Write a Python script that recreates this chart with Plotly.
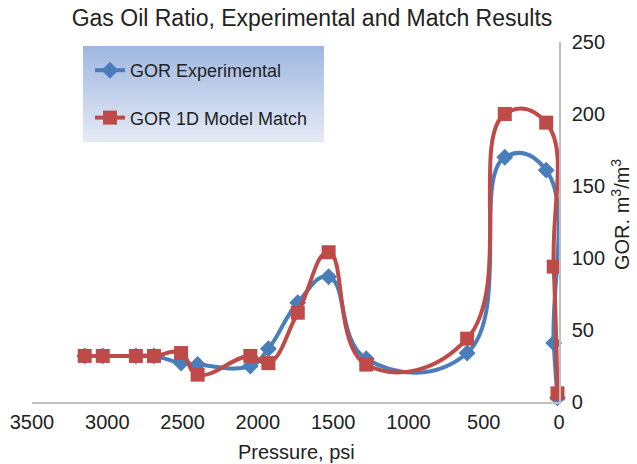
import plotly.graph_objects as go

# ---- data ----
pressure_psi = [3150, 3030, 2810, 2690, 2510, 2400, 2050, 1930, 1735, 1530, 1280, 610, 360, 85, 35, 10]
gor_experimental = [32, 32, 32, 32, 27, 26, 25, 37, 69, 87, 30, 34, 170, 161, 41, 3]
gor_model_match = [32, 32, 32, 32, 34, 19, 32, 27, 62, 104, 26, 44, 200, 194, 94, 6]
x_ticks = [3500, 3000, 2500, 2000, 1500, 1000, 500, 0]
y_ticks = [0, 50, 100, 150, 200, 250]

W, H = 637, 464
L, R, T, B = 32, 78, 42, 62
PW, PH = W - L - R, H - T - B

FONT = "Liberation Sans, Arial, Helvetica, sans-serif"
TXT = "#222222"
BLUE = "#4a7ebb"
RED = "#be4b48"

def px2paper_x(px):
    return (px - L) / PW

def px2paper_y(py):
    return (H - B - py) / PH

fig = go.Figure()
fig.add_trace(go.Scatter(
    x=pressure_psi, y=gor_experimental, name="GOR Experimental",
    mode="lines+markers", line=dict(color=BLUE, width=4, shape="spline", smoothing=1.3),
    marker=dict(symbol="diamond", size=13, color=BLUE),
    legendgroup="a", cliponaxis=False,
))
fig.add_trace(go.Scatter(
    x=pressure_psi, y=gor_model_match, name="GOR 1D Model Match",
    mode="lines+markers", line=dict(color=RED, width=4, shape="spline", smoothing=1.3),
    marker=dict(symbol="square", size=14, color=RED),
    legendgroup="b", cliponaxis=False,
))

# gradient legend background (stacked strips)
bx0, bx1, by0, by1 = 83, 324, 46, 142
top_c = (160, 184, 225)
bot_c = (228, 234, 245)
n = 24
shapes = []
for i in range(n):
    t = i / (n - 1)
    c = tuple(int(round(top_c[k] + (bot_c[k] - top_c[k]) * t)) for k in range(3))
    ya = by0 + (by1 - by0) * i / n
    yb = by0 + (by1 - by0) * (i + 1) / n
    shapes.append(dict(type="rect", xref="paper", yref="paper",
                       x0=px2paper_x(bx0), x1=px2paper_x(bx1),
                       y0=px2paper_y(yb) - 0.001, y1=px2paper_y(ya),
                       fillcolor="rgb(%d,%d,%d)" % c, line=dict(width=0), layer="below"))

annotations = [
    dict(text="Pressure, psi", xref="paper", yref="paper",
         x=px2paper_x(296), y=px2paper_y(452), xanchor="center", yanchor="middle",
         showarrow=False, font=dict(size=20, color=TXT)),
    dict(text="GOR. m<sup>3</sup>/m<sup>3</sup>", xref="paper", yref="paper",
         x=px2paper_x(621), y=px2paper_y(215), xanchor="center", yanchor="middle",
         textangle=-90, showarrow=False, font=dict(size=20, color=TXT)),
]

fig.update_layout(
    width=W, height=H,
    margin=dict(l=L, r=R, t=T, b=B, autoexpand=False),
    paper_bgcolor="white", plot_bgcolor="white",
    font=dict(family=FONT, color=TXT, size=20),
    title=dict(text="Gas Oil Ratio, Experimental and Match Results",
               x=312 / W, xanchor="center", y=1 - 18 / H, yanchor="middle",
               font=dict(size=23, color=TXT)),
    showlegend=True,
    legend=dict(x=px2paper_x(90), y=px2paper_y(52), xanchor="left", yanchor="top",
                bgcolor="rgba(0,0,0,0)", font=dict(size=18, color=TXT),
                traceorder="grouped", tracegroupgap=21, itemwidth=30),
    shapes=shapes,
    annotations=annotations,
    xaxis=dict(range=[3500, 0], tickvals=x_ticks, ticktext=[str(v) for v in x_ticks],
               showgrid=False, zeroline=False, showline=True, linecolor="#bfbfbf", linewidth=1.5,
               ticks="", ticklabelstandoff=1, automargin=False),
    yaxis=dict(range=[0, 250], tickvals=y_ticks, side="right",
               showgrid=False, zeroline=False, showline=True, linecolor="#bfbfbf", linewidth=1.5,
               ticks="", ticklabelstandoff=7, automargin=False),
)

fig.write_html("out.html")
